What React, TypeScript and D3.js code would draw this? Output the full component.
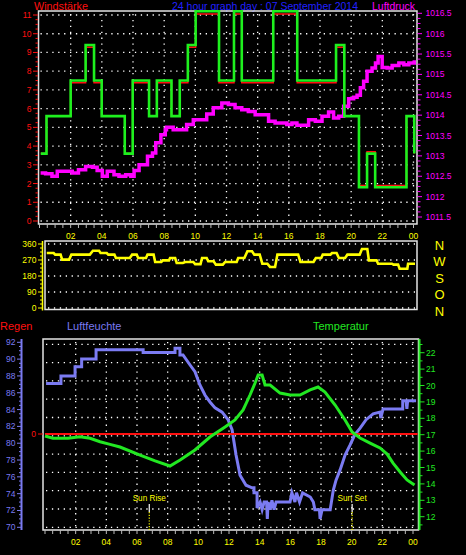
import React from 'react';
import * as d3 from 'd3';

// ---------- data ----------
const timeLabels = ['02', '04', '06', '08', '10', '12', '14', '16', '18', '20', '22', '00'];
const timeLabelHours = [2, 4, 6, 8, 10, 12, 14, 16, 18, 20, 22, 24];

// wind (step series): red = Windstärke, green = gusts
const windTimes = [0.08, 0.45, 2.0, 2.96, 3.5, 3.99, 5.47, 5.98, 7.03, 7.53, 8.47, 9.0, 9.52, 10.02, 11.52, 12.48, 12.98, 15.0, 16.54, 19.03, 19.56, 20.5, 21.02, 21.54, 23.55, 24.05];
const gustValues = [3.6, 5.6, 7.5, 9.4, 7.5, 5.6, 3.6, 7.5, 5.6, 7.5, 5.6, 7.5, 9.4, 11.2, 7.5, 11.2, 7.5, 11.2, 7.5, 9.4, 5.6, 1.8, 3.6, 1.8, 5.6, 3.6];
const windValues = [3.6, 5.6, 7.38, 9.28, 7.38, 5.6, 3.6, 7.38, 5.6, 7.38, 5.6, 7.38, 9.28, 11.05, 7.38, 11.05, 7.38, 11.05, 7.38, 9.28, 5.6, 1.9, 3.7, 1.9, 5.6, 3.6];

const pressTimes = [0.07, 0.39, 0.8, 1.14, 1.67, 2.1, 2.5, 2.96, 3.4, 3.7, 4.03, 4.35, 4.78, 5.1, 5.53, 5.86, 6.07, 6.39, 6.71, 6.93, 7.25, 7.46, 7.79, 8.07, 8.15, 8.58, 9.0, 9.44, 9.87, 10.3, 10.73, 11.15, 11.7, 12.12, 12.55, 12.98, 13.4, 13.84, 14.27, 14.7, 15.12, 15.55, 15.87, 16.2, 16.52, 16.84, 17.27, 17.7, 18.13, 18.55, 18.87, 19.2, 19.52, 19.84, 20.16, 20.38, 20.59, 20.8, 21.02, 21.34, 21.56, 21.73, 21.99, 22.31, 22.63, 23.06, 23.38, 23.7, 24.05];
const pressValues = [1012.58, 1012.56, 1012.5, 1012.62, 1012.62, 1012.58, 1012.66, 1012.74, 1012.72, 1012.64, 1012.5, 1012.62, 1012.54, 1012.5, 1012.54, 1012.5, 1012.64, 1012.78, 1012.78, 1012.99, 1013.07, 1013.32, 1013.52, 1013.64, 1013.7, 1013.64, 1013.64, 1013.77, 1013.89, 1013.89, 1014.03, 1014.18, 1014.3, 1014.26, 1014.18, 1014.13, 1014.09, 1014.01, 1014.01, 1013.85, 1013.81, 1013.81, 1013.77, 1013.81, 1013.75, 1013.75, 1013.89, 1013.85, 1013.97, 1014.08, 1013.93, 1013.97, 1014.22, 1014.4, 1014.44, 1014.49, 1014.67, 1014.83, 1015.08, 1015.16, 1015.28, 1015.44, 1015.17, 1015.16, 1015.22, 1015.28, 1015.24, 1015.28, 1015.35];

const windTicks = [0, 1, 2, 3, 4, 5, 6, 7, 8, 9, 10, 11];
const pressTicks = [1011.5, 1012, 1012.5, 1013, 1013.5, 1014, 1014.5, 1015, 1015.5, 1016, 1016.5];

// wind direction
const dirTimes = [0.05, 0.5, 0.6, 0.95, 1.05, 1.5, 1.65, 2.85, 3.05, 3.45, 3.55, 3.95, 4.05, 4.45, 4.55, 5.45, 5.6, 5.9, 6.0, 6.5, 6.6, 7.0, 7.1, 7.5, 7.6, 8.0, 8.07, 8.4, 8.5, 8.9, 9.05, 9.58, 9.7, 10.05, 10.15, 10.45, 10.55, 10.9, 11.05, 11.5, 11.65, 12.4, 12.5, 12.9, 13.1, 13.4, 13.55, 13.9, 14.07, 14.4, 14.57, 14.9, 15.05, 16.4, 16.55, 17.4, 17.55, 17.9, 18.0, 18.5, 18.6, 18.9, 19.05, 19.45, 19.6, 20.4, 20.55, 20.9, 21.0, 21.5, 21.6, 22.5, 22.6, 22.9, 23.0, 23.5, 23.55, 24.0];
const dirValues = [309, 309, 300, 300, 272, 272, 300, 300, 322, 322, 309, 309, 300, 300, 281, 281, 300, 300, 281, 281, 300, 300, 259, 259, 268, 268, 281, 281, 253, 253, 259, 259, 247, 247, 281, 281, 263, 263, 244, 244, 259, 259, 281, 281, 319, 319, 300, 300, 249, 249, 231, 231, 300, 300, 259, 259, 281, 281, 300, 300, 309, 309, 281, 281, 300, 300, 332, 332, 268, 268, 249, 249, 244, 244, 221, 221, 249, 249];
const dirTicks = [0, 90, 180, 270, 360];
const compass = ['N', 'W', 'S', 'O', 'N'];

// humidity
const humTimes = [0.07, 1.04, 1.04, 1.96, 1.96, 2.39, 2.39, 3.33, 3.33, 6.4, 6.4, 8.48, 8.48, 8.8, 8.8, 9.0, 9.46, 9.78, 10.11, 10.44, 10.76, 11.09, 11.55, 11.94, 12.2, 12.46, 12.72, 13.11, 13.5, 13.63, 13.63, 13.83, 13.83, 14.03, 14.16, 14.29, 14.45, 14.5, 14.55, 14.68, 14.8, 14.94, 15.07, 15.98, 16.1, 16.3, 16.4, 16.6, 16.8, 17.3, 17.5, 17.6, 17.9, 17.94, 18.07, 18.6, 18.8, 18.98, 19.24, 19.57, 19.9, 20.2, 20.55, 20.94, 21.4, 21.85, 21.9, 22.05, 23.33, 23.33, 23.55, 23.6, 23.65, 24.2];
const humValues = [87.1, 87.1, 88.0, 88.0, 89.1, 89.1, 90.0, 90.0, 91.1, 91.1, 90.8, 90.8, 91.3, 91.3, 90.5, 90.5, 89.3, 88.5, 86.9, 85.7, 84.9, 84.2, 83.7, 82.8, 81.6, 78.6, 76.2, 75.0, 74.7, 74.7, 74.1, 74.1, 72.3, 73.0, 72.1, 73.0, 73.0, 71.0, 73.0, 72.1, 73.2, 72.1, 73.0, 73.0, 74.1, 73.0, 74.1, 73.0, 74.1, 73.6, 73.0, 72.1, 72.1, 71.0, 72.1, 72.1, 74.4, 75.6, 76.8, 78.6, 79.8, 81.0, 81.8, 82.8, 83.5, 83.7, 83.0, 84.07, 84.07, 85.05, 85.05, 84.07, 85.05, 85.05];
const humTicks = [70, 72, 74, 76, 78, 80, 82, 84, 86, 88, 90, 92];

// temperature
const tempTimes = [0, 0.52, 1.5, 2.28, 2.94, 3.59, 4.24, 4.89, 6.2, 7.18, 8.15, 8.81, 9.78, 10.76, 11.74, 12.39, 12.92, 13.37, 13.7, 13.9, 14.16, 14.35, 14.68, 15.33, 15.98, 16.63, 17.29, 17.81, 18.26, 18.92, 19.57, 20.03, 20.55, 21.2, 21.85, 22.31, 22.7, 23.16, 23.61, 24.1];
const tempValues = [16.92, 16.78, 16.78, 16.88, 16.78, 16.57, 16.41, 16.25, 15.76, 15.4, 15.09, 15.46, 16.07, 16.86, 17.47, 17.9, 18.51, 19.42, 20.15, 20.64, 20.64, 20.03, 20.03, 19.54, 19.42, 19.42, 19.73, 19.91, 19.6, 18.81, 17.9, 17.16, 16.8, 16.49, 16.19, 15.82, 15.27, 14.73, 14.24, 13.93];
const tempTicks = [12, 13, 14, 15, 16, 17, 18, 19, 20, 21, 22];

// rain
const rainTimes = [0, 24.3];
const rainValues = [0, 0];

const sunEvents = ['Sun Rise', 'Sun Set'];
const sunTimes = [6.8, 20.03];

// ---------- styling ----------
const FONT = 'Liberation Sans, Arial, sans-serif';
const FRAME = '#e4e4e4';
const RED = '#ff1010';
const MAG = '#ff00ff';
const YEL = '#ffff00';
const BLUE = '#7b7bf2';
const GRN = '#22e822';
const WGRN = '#1ef01e';

const Dotted = (p: { x1: number; y1: number; x2: number; y2: number }) => (
  <line {...p} stroke="#ffffff" strokeWidth={1.3} strokeDasharray="1.3 4.6" />
);

export default function App() {
  // scales
  const xTop = d3.scaleLinear().domain([0, 24]).range([39.5, 413.5]);
  const yWind = d3.scaleLinear().domain([0, 11]).range([221, 15]);
  const yPress = d3.scaleLinear().domain([1011.5, 1016.5]).range([217, 13.3]);
  const xMid = d3.scaleLinear().domain([0, 24]).range([46, 415]);
  const yDir = d3.scaleLinear().domain([0, 360]).range([308, 244]);
  const xBot = d3.scaleLinear().domain([0, 24]).range([45, 413]);
  const yHum = d3.scaleLinear().domain([70, 92]).range([527.3, 342.3]);
  const yTemp = d3.scaleLinear().domain([12, 22]).range([516.7, 352.7]);
  const yRain = d3.scaleLinear().domain([0, 10]).range([434, 344]);

  const mk = (xs: number[], ys: number[], x: any, y: any, curve: any) =>
    d3.line<number>().x((i) => x(xs[i])).y((i) => y(ys[i])).curve(curve)(d3.range(xs.length)) || '';

  const gustPath = mk(windTimes, gustValues, xTop, yWind, d3.curveStepAfter);
  const windPath = mk(windTimes, windValues, xTop, yWind, d3.curveStepAfter);
  const pressPath = mk(pressTimes, pressValues, xTop, yPress, d3.curveStepAfter);
  const dirPath = mk(dirTimes, dirValues, xMid, yDir, d3.curveLinear);
  const humPath = mk(humTimes, humValues, xBot, yHum, d3.curveLinear);
  const tempPath = mk(tempTimes, tempValues, xBot, yTemp, d3.curveLinear);
  const rainPath = mk(rainTimes, rainValues, xBot, yRain, d3.curveLinear);

  const halfHours = d3.range(0, 24.001, 0.5);

  const top = { l: 38.5, r: 417, t: 11, b: 224 };
  const mid = { l: 45, r: 417, t: 241, b: 309.5 };
  const bot = { l: 43, r: 418.5, t: 339, b: 530 };

  const fmtP = (v: number) => (v % 1 === 0 ? String(v) : v.toFixed(1));

  return (
    <svg
      width={466}
      height={555}
      style={{ position: 'absolute', left: 0, top: 0, background: '#000' }}
      fontFamily={FONT}
    >
      <rect x={0} y={0} width={466} height={555} fill="#000" />

      {/* ---- titles ---- */}
      <text x={34} y={10} fill={RED} fontSize={11} textLength={54} lengthAdjust="spacingAndGlyphs">Windstärke</text>
      <text x={172} y={10} fill="#2020ff" fontSize={11} textLength={186} lengthAdjust="spacingAndGlyphs">24 hour graph day : 07 September 2014</text>
      <text x={372} y={10} fill={MAG} fontSize={11} textLength={43} lengthAdjust="spacingAndGlyphs">Luftdruck</text>

      {/* ================= TOP PANEL ================= */}
      {windTicks.map((v) => (
        <Dotted key={'wg' + v} x1={top.l + 2} x2={top.r - 2} y1={yWind(v)} y2={yWind(v)} />
      ))}
      {timeLabelHours.map((h) => (
        <Dotted key={'tv' + h} x1={xTop(h)} x2={xTop(h)} y1={top.t + 3} y2={top.b - 2} />
      ))}
      <rect x={top.l} y={top.t} width={top.r - top.l} height={top.b - top.t} fill="none" stroke={FRAME} strokeWidth={1.5} />
      {halfHours.map((h) => (
        <line key={'tt' + h} x1={xTop(h)} x2={xTop(h)} y1={top.b} y2={top.b + 4} stroke="#bbbbbb" strokeWidth={1} />
      ))}
      {timeLabels.map((s, i) => (
        <text key={'tl' + i} x={xTop(timeLabelHours[i])} y={238.5} fill={YEL} fontSize={8.5} textAnchor="middle">{s}</text>
      ))}
      {/* left wind axis */}
      {d3.range(0, 11.001, 0.25).map((v) => (
        <line key={'wt' + v} x1={v % 1 === 0 ? 33 : 35.5} x2={38} y1={yWind(v)} y2={yWind(v)} stroke={RED} strokeWidth={1} />
      ))}
      {windTicks.map((v) => (
        <text key={'wl' + v} x={31.5} y={yWind(v) + 3} fill={RED} fontSize={8.5} textAnchor="end">{v}</text>
      ))}
      {/* right pressure axis */}
      {d3.range(1011.5, 1016.501, 0.125).map((v) => (
        <line key={'pt' + v} x1={417.5} x2={(v * 2) % 1 === 0 ? 422 : 420.5} y1={yPress(v)} y2={yPress(v)} stroke={MAG} strokeWidth={1} />
      ))}
      {pressTicks.map((v) => (
        <text key={'pl' + v} x={425.5} y={yPress(v) + 3} fill={MAG} fontSize={8.5}>{fmtP(v)}</text>
      ))}
      <path d={pressPath} fill="none" stroke={MAG} strokeWidth={3.5} strokeLinejoin="miter" />
      <path d={windPath} fill="none" stroke={RED} strokeWidth={1.5} />
      <path d={gustPath} fill="none" stroke={WGRN} strokeWidth={2.6} />

      {/* ================= MIDDLE PANEL ================= */}
      {dirTicks.map((v) => (
        <Dotted key={'dg' + v} x1={mid.l + 3} x2={mid.r - 2} y1={yDir(v)} y2={yDir(v)} />
      ))}
      <rect x={mid.l} y={mid.t} width={mid.r - mid.l} height={mid.b - mid.t} fill="none" stroke={FRAME} strokeWidth={1.5} />
      <line x1={42.5} x2={42.5} y1={mid.t} y2={mid.b + 1} stroke={YEL} strokeWidth={1.5} />
      {d3.range(0, 360.001, 22.5).map((v) => (
        <line key={'dt' + v} x1={v % 90 === 0 ? 38 : 40} x2={42.5} y1={yDir(v)} y2={yDir(v)} stroke={YEL} strokeWidth={1} />
      ))}
      {dirTicks.map((v) => (
        <text key={'dl' + v} x={36.5} y={yDir(v) + 3} fill={YEL} fontSize={8.5} textAnchor="end">{v}</text>
      ))}
      {compass.map((c, i) => (
        <text key={'cp' + i} x={439.5} y={249.5 + i * 16.6} fill={YEL} fontSize={13} textAnchor="middle">{c}</text>
      ))}
      <path d={dirPath} fill="none" stroke={YEL} strokeWidth={2.6} />

      {/* ================= BOTTOM PANEL ================= */}
      <text x={0} y={330} fill={RED} fontSize={11}>Regen</text>
      <text x={67} y={330} fill={BLUE} fontSize={11}>Luftfeuchte</text>
      <text x={313} y={330} fill={GRN} fontSize={11}>Temperatur</text>

      {d3.range(11).map((i) => (
        <Dotted key={'bg' + i} x1={bot.l + 3} x2={bot.r - 3} y1={344.3 + i * 18.3} y2={344.3 + i * 18.3} />
      ))}
      {timeLabelHours.map((h) => (
        <Dotted key={'bv' + h} x1={xBot(h)} x2={xBot(h)} y1={bot.t + 3} y2={bot.b - 2} />
      ))}
      <rect x={bot.l} y={bot.t} width={bot.r - bot.l} height={bot.b - bot.t} fill="none" stroke={FRAME} strokeWidth={1.5} />
      {halfHours.map((h) => (
        <line key={'bt' + h} x1={xBot(h)} x2={xBot(h)} y1={bot.b} y2={bot.b + 4} stroke="#bbbbbb" strokeWidth={1} />
      ))}
      {timeLabels.map((s, i) => (
        <text key={'bl' + i} x={xBot(timeLabelHours[i])} y={545} fill={YEL} fontSize={8.5} textAnchor="middle">{s}</text>
      ))}

      {/* humidity axis */}
      <line x1={21.5} x2={21.5} y1={bot.t} y2={bot.b} stroke={BLUE} strokeWidth={2} />
      {d3.range(70, 92.001, 0.5).map((v) => (
        <line key={'ht' + v} x1={v % 2 === 0 ? 17 : 19} x2={21.5} y1={yHum(v)} y2={yHum(v)} stroke={BLUE} strokeWidth={1} />
      ))}
      {humTicks.map((v) => (
        <text key={'hl' + v} x={15.5} y={yHum(v) + 3} fill={BLUE} fontSize={8.5} textAnchor="end">{v}</text>
      ))}
      {/* temperature axis */}
      <line x1={419.5} x2={419.5} y1={bot.t} y2={bot.b} stroke={GRN} strokeWidth={2} />
      {d3.range(11.5, 22.501, 0.5).map((v) => (
        <line key={'tt2' + v} x1={419.5} x2={v % 1 === 0 ? 424.5 : 422.5} y1={yTemp(v)} y2={yTemp(v)} stroke={GRN} strokeWidth={1} />
      ))}
      {tempTicks.map((v) => (
        <text key={'tl2' + v} x={426} y={yTemp(v) + 3} fill={GRN} fontSize={8.5}>{v}</text>
      ))}
      {/* rain axis */}
      <text x={36} y={yRain(0) + 3} fill={RED} fontSize={8.5} textAnchor="end">0</text>
      <line x1={38} x2={bot.l} y1={yRain(0)} y2={yRain(0)} stroke={RED} strokeWidth={1} />

      {/* sun markers */}
      {sunEvents.map((s, i) => (
        <g key={'sun' + i}>
          <text x={xBot(sunTimes[i])} y={500.5} fill={YEL} fontSize={8.2} textAnchor="middle">{s}</text>
          <line x1={xBot(sunTimes[i])} x2={xBot(sunTimes[i])} y1={504} y2={512} stroke="#ffffff" strokeWidth={1.2} />
          <line x1={xBot(sunTimes[i])} x2={xBot(sunTimes[i])} y1={512} y2={bot.b} stroke={YEL} strokeWidth={1.2} strokeDasharray="1.2 1.6" />
        </g>
      ))}

      <path d={humPath} fill="none" stroke={BLUE} strokeWidth={3} />
      <path d={rainPath} fill="none" stroke={RED} strokeWidth={2} />
      <path d={tempPath} fill="none" stroke={GRN} strokeWidth={3} />
    </svg>
  );
}
